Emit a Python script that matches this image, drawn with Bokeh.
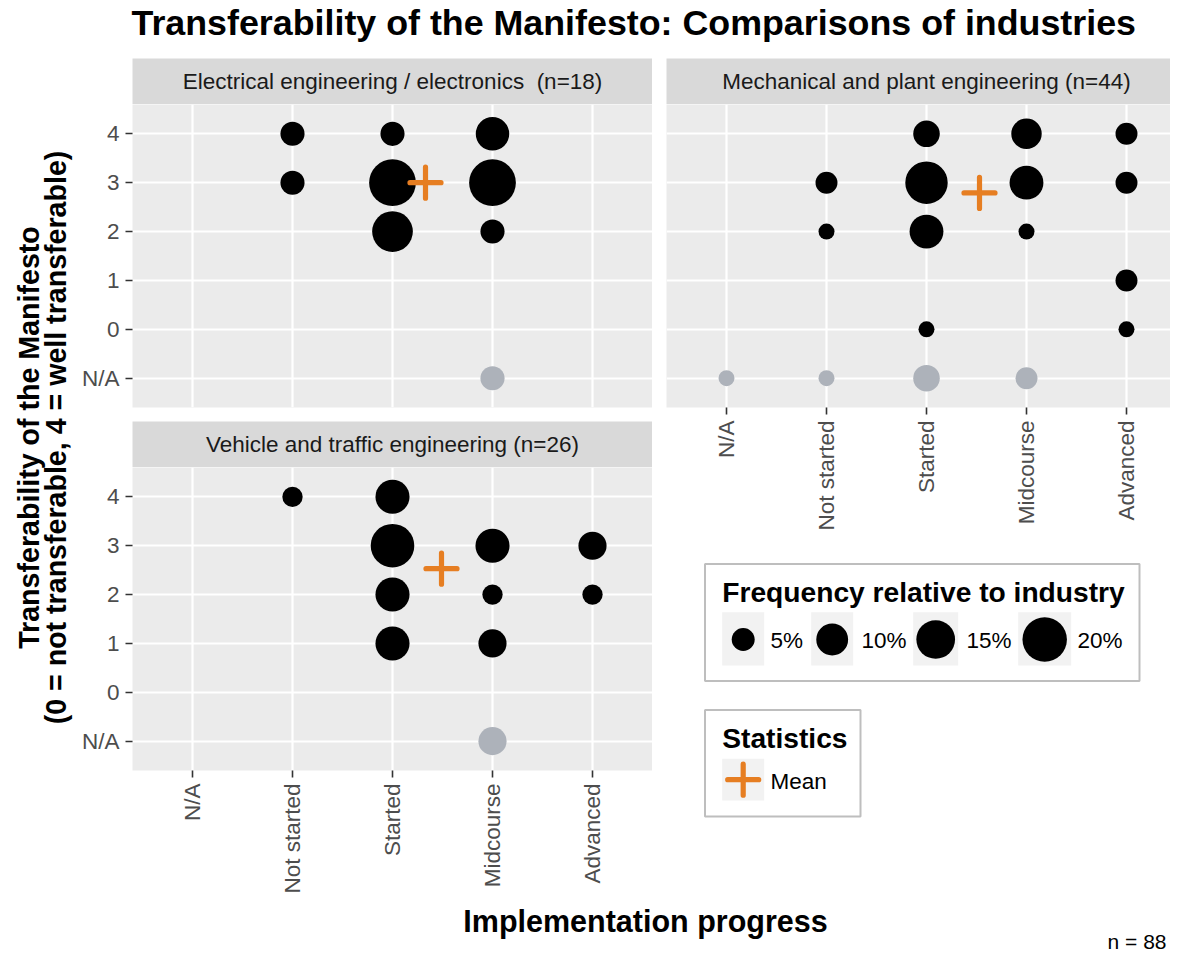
import math
from bokeh.plotting import figure
from bokeh.layouts import row, column
from bokeh.models import Range1d, FixedTicker, LinearAxis, Grid, Label
from bokeh.core.properties import value
from bokeh.embed import file_html
from bokeh.resources import INLINE

FONT = "Liberation Sans"

# ---------------- data ----------------
x_levels = ["N/A", "Not started", "Started", "Midcourse", "Advanced"]
y_levels = ["N/A", "0", "1", "2", "3", "4"]

elec_title = "Electrical engineering / electronics\u00a0 (n=18)"
elec_total = 18
elec_x = ["Not started", "Not started", "Started", "Started", "Started",
          "Midcourse", "Midcourse", "Midcourse", "Midcourse"]
elec_y = ["4", "3", "4", "3", "2", "4", "3", "2", "N/A"]
elec_n = [1, 1, 1, 4, 3, 2, 4, 1, 1]
elec_mean = (2.33, 3.0)   # (progress: 1=Not started..4=Advanced, transferability 0..4)

mech_title = "Mechanical and plant engineering (n=44)"
mech_total = 44
mech_x = ["N/A", "Not started", "Not started", "Not started",
          "Started", "Started", "Started", "Started", "Started",
          "Midcourse", "Midcourse", "Midcourse", "Midcourse",
          "Advanced", "Advanced", "Advanced", "Advanced"]
mech_y = ["N/A", "3", "2", "N/A", "4", "3", "2", "0", "N/A",
          "4", "3", "2", "N/A", "4", "3", "1", "0"]
mech_n = [1, 2, 1, 1, 3, 8, 5, 1, 3, 4, 5, 1, 2, 2, 2, 2, 1]
mech_mean = (2.53, 2.79)

veh_title = "Vehicle and traffic engineering (n=26)"
veh_total = 26
veh_x = ["Not started", "Started", "Started", "Started", "Started",
         "Midcourse", "Midcourse", "Midcourse", "Midcourse", "Advanced", "Advanced"]
veh_y = ["4", "4", "3", "2", "1", "3", "2", "1", "N/A", "3", "2"]
veh_n = [1, 3, 5, 3, 3, 3, 1, 2, 2, 2, 1]
veh_mean = (2.49, 2.53)

legend_breaks = [5, 10, 15, 20]
legend_labels = ["5%", "10%", "15%", "20%"]

# ---------------- styles ----------------
PANEL_BG = "#EBEBEB"
STRIP_BG = "#D9D9D9"
NA_COLOR = "#ADB2BA"
PT_COLOR = "#000000"
MEAN_COLOR = "#E67E22"
TICK_COLOR = "#333333"
TICK_TEXT = "#4D4D4D"


def size_of(pct):
    return 9.6 * math.sqrt(pct) + 1.5


def base(width, height, xr, yr, **borders):
    p = figure(width=width, height=height, x_range=Range1d(*xr), y_range=Range1d(*yr),
               x_axis_location=None, y_axis_location=None, toolbar_location=None,
               output_backend="svg", min_border=0, **borders)
    p.grid.visible = False
    p.background_fill_color = "white"
    p.border_fill_color = "white"
    p.outline_line_color = None
    return p


def strip(width, border_left, text, xr, text_x):
    p = base(width, 46, xr, (0, 1), min_border_left=border_left)
    p.background_fill_color = STRIP_BG
    p.add_layout(Label(x=text_x, y=0.5, text=text, text_align="center", text_baseline="middle",
                       text_font=FONT, text_font_size="22.5px", text_color="#1A1A1A"))
    return p


def panel(xs, ys, ns, total, mean, width, height, border_left, border_bottom, x_end,
          show_x, show_y):
    p = base(width, height, (0.4, x_end), (0.4, 6.6), min_border_left=border_left,
             min_border_bottom=border_bottom)
    p.background_fill_color = PANEL_BG
    xt = FixedTicker(ticks=[1, 2, 3, 4, 5])
    yt = FixedTicker(ticks=[1, 2, 3, 4, 5, 6])
    p.add_layout(Grid(dimension=0, ticker=xt, grid_line_color="white", grid_line_width=2.2))
    p.add_layout(Grid(dimension=1, ticker=yt, grid_line_color="white", grid_line_width=2.2))
    common = dict(axis_line_color=None, major_tick_line_color=TICK_COLOR, major_tick_line_width=1.6,
                  major_tick_in=0, major_tick_out=7, minor_tick_line_color=None,
                  major_label_standoff=6, major_label_text_font=FONT,
                  major_label_text_font_size="22.5px", major_label_text_color=TICK_TEXT)
    if show_x:
        ax = LinearAxis(ticker=xt, major_label_overrides={i + 1: s for i, s in enumerate(x_levels)},
                        major_label_orientation=math.pi / 2, **common)
        p.add_layout(ax, "below")
    if show_y:
        ay = LinearAxis(ticker=yt, major_label_overrides={i + 1: s for i, s in enumerate(y_levels)},
                        **common)
        p.add_layout(ay, "left")
    px = [x_levels.index(v) + 1 for v in xs]
    py = [y_levels.index(v) + 1 for v in ys]
    sz = [size_of(100.0 * n / total) for n in ns]
    col = [NA_COLOR if (a == "N/A" or b == "N/A") else PT_COLOR for a, b in zip(xs, ys)]
    p.scatter(px, py, size=sz, fill_color=col, line_color=None)
    p.scatter([mean[0] + 1], [mean[1] + 2], marker="cross", size=31, line_color=MEAN_COLOR,
              line_width=5.2, line_cap="round")
    return p


# ---------------- build (page pixel coordinates) ----------------
title_fig = base(1170, 58, (0, 1170), (58, 0))
title_fig.add_layout(Label(x=131, y=22, text="Transferability of the Manifesto: Comparisons of industries",
                           text_align="left", text_baseline="middle", text_font=FONT,
                           text_font_style="bold", text_font_size="35.8px", text_color="black"))

ytitle_fig = base(78, 842, (0, 78), (900, 58))
ytitle_fig.add_layout(Label(x=28, y=437, text="Transferability of the Manifesto", angle=math.pi / 2,
                            text_align="center", text_baseline="middle", text_font=FONT,
                            text_font_style="bold", text_font_size="28.6px", text_color="black"))
ytitle_fig.add_layout(Label(x=55, y=437, text="(0 = not transferable, 4 = well transferable)",
                            angle=math.pi / 2, text_align="center", text_baseline="middle",
                            text_font=FONT, text_font_style="bold", text_font_size="28.6px",
                            text_color="black"))

strip1 = strip(574, 54, elec_title, (0.4, 5.6), 3.0)
p1 = panel(elec_x, elec_y, elec_n, elec_total, elec_mean, 574, 317, 54, 14, 5.6, False, True)
strip3 = strip(574, 54, veh_title, (0.4, 5.6), 3.0)
p3 = panel(veh_x, veh_y, veh_n, veh_total, veh_mean, 574, 433, 54, 130, 5.6, True, True)

strip2 = strip(518, 14, mech_title, (666, 1170), 926)
p2 = panel(mech_x, mech_y, mech_n, mech_total, mech_mean, 518, 443, 14, 140, 5.44, True, False)

leg = base(518, 353, (666, 1170), (900, 547), min_border_left=14)
# size legend box
leg.quad(left=[704.5], right=[1139], top=[563.5], bottom=[680.5], fill_color=None,
         line_color="#BEBEBE", line_width=2)
key_l = [721.7, 810.7, 912.7, 1017.7]
key_r = [763.7, 852.7, 957.7, 1070.7]
leg.quad(left=key_l, right=key_r, top=[611.7] * 4, bottom=[665] * 4, fill_color="#F2F2F2", line_color=None)
leg.scatter([(a + b) / 2 for a, b in zip(key_l, key_r)], [639] * 4,
            size=[size_of(v) for v in legend_breaks], fill_color=PT_COLOR, line_color=None)
leg.text(x=[770, 861, 966, 1077], y=[640] * 4, text=legend_labels, text_font=value(FONT),
         text_font_size="22.5px", text_align="left", text_baseline="middle", text_color="black")
leg.add_layout(Label(x=721.7, y=591, text="Frequency relative to industry", text_font=FONT,
                     text_font_style="bold", text_font_size="28.2px", text_align="left",
                     text_baseline="middle", text_color="black"))
# statistics legend
leg.quad(left=[704.5], right=[860], top=[709.5], bottom=[816], fill_color=None,
         line_color="#BEBEBE", line_width=2)
leg.quad(left=[721.7], right=[763.7], top=[758.3], bottom=[800], fill_color="#F2F2F2", line_color=None)
leg.scatter([742.7], [779.2], marker="cross", size=31, line_color=MEAN_COLOR, line_width=5.2,
            line_cap="round")
leg.text(x=[770], y=[781], text=["Mean"], text_font=value(FONT), text_font_size="22.5px",
         text_align="left", text_baseline="middle", text_color="black")
leg.add_layout(Label(x=721.7, y=737, text="Statistics", text_font=FONT, text_font_style="bold",
                     text_font_size="28.2px", text_align="left", text_baseline="middle",
                     text_color="black"))

bottom_fig = base(1170, 56, (0, 1170), (956, 900))
bottom_fig.add_layout(Label(x=645, y=920, text="Implementation progress", text_align="center",
                            text_baseline="middle", text_font=FONT, text_font_style="bold",
                            text_font_size="30.5px", text_color="black"))
bottom_fig.add_layout(Label(x=1166, y=941, text="n = 88", text_align="right",
                            text_baseline="middle", text_font=FONT, text_font_size="21px",
                            text_color="black"))

left_stack = column(strip1, p1, strip3, p3, spacing=0)
right_stack = column(strip2, p2, leg, spacing=0)
middle = row(ytitle_fig, left_stack, right_stack, spacing=0)
page = column(title_fig, middle, bottom_fig, spacing=0)

open("out.html", "w").write(file_html(page, INLINE))
